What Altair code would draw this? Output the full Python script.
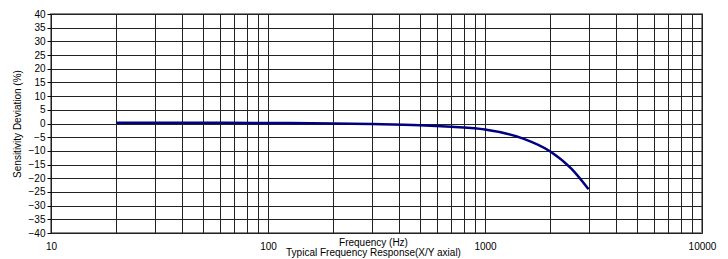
import altair as alt
import pandas as pd

freq = [20, 50, 100, 200, 300, 500, 700, 1000, 1500, 2000, 2500, 3000]
dev = [0.3, 0.3, 0.2, 0.0, -0.2, -0.6, -1.2, -2.2, -5.5, -10.2, -16.5, -24.0]

grid_x = [m * 10 ** e for e in range(1, 4) for m in range(1, 10)] + [10000]
y_ticks = list(range(-40, 45, 5))

df = pd.DataFrame({"f": freq, "d": dev})

chart = (
    alt.Chart(df)
    .mark_line(color="#000080", strokeWidth=2.5, interpolate="monotone")
    .encode(
        x=alt.X(
            "f:Q",
            scale=alt.Scale(type="log", domain=[10, 10000]),
            axis=alt.Axis(
                values=grid_x,
                labelExpr="indexof([10,100,1000,10000], datum.value) >= 0 ? format(datum.value, 'd') : ''",
                ticks=False,
                labelPadding=8,
                title=["Frequency (Hz)", "Typical Frequency Response(X/Y axial)"],
                titleBaseline="top",
                titleY=4,
                titleX=322,
                titleLineHeight=10.5,
                titleFontWeight="normal",
                labelFlush=False,
                domain=False,
            ),
        ),
        y=alt.Y(
            "d:Q",
            scale=alt.Scale(domain=[-40, 40]),
            axis=alt.Axis(
                values=y_ticks,
                tickSize=4,
                tickColor="#000",
                labelPadding=2,
                title="Sensitivity Deviation (%)",
                titleFontWeight="normal",
                titlePadding=6,
                domain=False,
            ),
        ),
    )
    .properties(
        width=651,
        height=219,
        autosize=alt.AutoSizeParams(type="none"),
        padding={"left": 43, "top": 6, "right": 18, "bottom": 26},
    )
    .configure_view(stroke="#888", strokeWidth=2)
    .configure_axis(
        grid=True,
        gridColor="#222",
        gridWidth=1,
        labelFont="Liberation Sans",
        titleFont="Liberation Sans",
        labelFontSize=10,
        titleFontSize=10,
        labelColor="#000",
        titleColor="#000",
    )
)

chart.save("out.html", embed_options={"renderer": "svg", "actions": False})
